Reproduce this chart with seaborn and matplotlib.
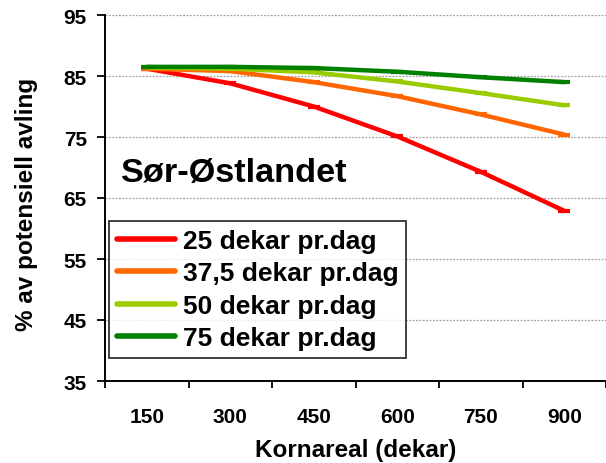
import matplotlib
matplotlib.use("Agg")
import matplotlib.pyplot as plt
import seaborn as sns
import pandas as pd
import numpy as np

# ---- data ----
categories = ["150", "300", "450", "600", "750", "900"]
series_names = ["25 dekar pr.dag", "37,5 dekar pr.dag", "50 dekar pr.dag", "75 dekar pr.dag"]
s25 = [86.2, 83.8, 80.0, 75.1, 69.3, 62.9]
s375 = [86.2, 85.8, 84.0, 81.7, 78.7, 75.4]
s50 = [86.4, 86.2, 85.6, 84.1, 82.2, 80.2]
s75 = [86.5, 86.5, 86.3, 85.7, 84.8, 84.0]
yticks = [35, 45, 55, 65, 75, 85, 95]
colors = ["#FF0000", "#FF6600", "#99CC00", "#008000"]

rows = []
for name, vals in zip(series_names, [s25, s375, s50, s75]):
    for c, v in zip(categories, vals):
        rows.append({"Kornareal": c, "Andel": v, "Serie": name})
df = pd.DataFrame(rows)

sns.set_style("white")
plt.rcParams["font.family"] = ["Liberation Sans", "DejaVu Sans"]
plt.rcParams["font.weight"] = "bold"
for k in ["text.color", "axes.labelcolor", "xtick.color", "ytick.color"]:
    plt.rcParams[k] = "black"

fig = plt.figure(figsize=(6.06, 4.64), dpi=100)
ax = fig.add_axes([105/606, 1-382/464, 501/606, (382-16)/464])

sns.lineplot(data=df, x="Kornareal", y="Andel", hue="Serie", palette=colors,
             sort=False, linewidth=3.2, marker="_", markersize=9,
             markeredgewidth=3, ax=ax)
for ln in ax.lines:
    ln.set_markeredgecolor(ln.get_color())

ax.set_xlim(-0.5, len(categories) - 0.5)
ax.set_ylim(35, 95)
ax.set_yticks(yticks)
ax.set_yticklabels([str(t) for t in yticks], fontsize=15, fontweight="bold")

# Excel-like category axis: ticks between categories, labels at centres
ax.set_xticks(np.arange(len(categories) + 1) - 0.5)
ax.set_xticklabels([])
ax.set_xticks(np.arange(len(categories)), minor=True)
ax.set_xticklabels(categories, minor=True, fontsize=15, fontweight="bold")
ax.tick_params(axis="x", which="major", direction="out", length=5, width=1.3, color="black", bottom=True)
ax.tick_params(axis="x", which="minor", length=0, pad=19, bottom=True)
ax.tick_params(axis="y", which="major", direction="out", length=6, width=1.3, color="black", pad=7, left=True)

ax.grid(False)
for t in yticks[1:]:
    ax.axhline(t, color="#a0a0a0", linestyle=(0, (1.5, 1.2)), linewidth=0.9, zorder=0)

for s in ["top", "right"]:
    ax.spines[s].set_visible(False)
for s in ["left", "bottom"]:
    ax.spines[s].set_color("black")
    ax.spines[s].set_linewidth(1.4)

ax.set_xlabel("Kornareal (dekar)", fontsize=17.5, fontweight="bold")
ax.xaxis.set_label_coords(0.5, (382-439)/366)
ax.xaxis.label.set_va("top")
ax.set_ylabel("% av potensiell avling", fontsize=17.5, fontweight="bold")
ax.yaxis.set_label_coords((38-105)/501, 0.485)

ax.text(0.032, 0.546, "Sør-Østlandet", transform=ax.transAxes, fontsize=24.7,
        fontweight="bold", va="baseline", ha="left")

leg = ax.legend(loc="upper left", bbox_to_anchor=(0.008, 0.437), frameon=True,
                fancybox=False, fontsize=19, handlelength=2.2, handletextpad=0.3,
                labelspacing=0.32, borderpad=0.3, borderaxespad=0)
leg.get_frame().set_edgecolor("black")
leg.get_frame().set_linewidth(1.3)
for h in leg.get_lines():
    h.set_marker("")
    h.set_linewidth(4)
for t in leg.get_texts():
    t.set_fontweight("bold")
    t.set_color("black")
leg.set_title(None)

fig.savefig("out.png", dpi=100)
